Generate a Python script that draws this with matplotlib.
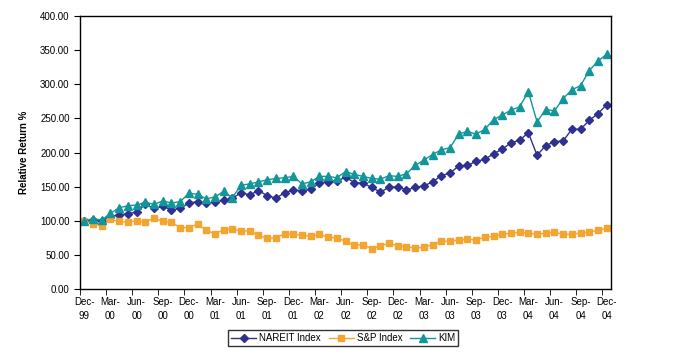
import matplotlib

matplotlib.use("Agg")
import matplotlib.pyplot as plt
import numpy as np

# monthly points Dec-99 .. Dec-04 (61 values)
nareit = [100, 101, 100, 106, 109, 110, 113, 124, 118, 121, 116, 118,
          126, 128, 126, 127, 130, 133, 141, 138, 144, 137, 133, 141,
          145, 144, 146, 156, 157, 158, 164, 156, 155, 149, 142, 149,
          150, 145, 149, 151, 157, 166, 170, 180, 181, 187, 190, 198,
          205, 214, 218, 229, 196, 210, 216, 217, 234, 234, 247, 257, 270]
sp = [100, 95, 93, 102, 99, 98, 100, 98, 104, 99, 98, 90,
      90, 95, 86, 81, 87, 88, 85, 85, 79, 74, 75, 81,
      80, 79, 77, 80, 76, 75, 70, 64, 65, 59, 63, 67,
      63, 62, 60, 61, 65, 70, 70, 72, 73, 72, 76, 77,
      80, 82, 83, 82, 80, 82, 83, 80, 80, 82, 83, 86, 89]
kim = [100, 103, 101, 111, 119, 122, 123, 127, 124, 129, 126, 128,
       140, 139, 132, 135, 143, 134, 152, 154, 157, 160, 162, 163,
       165, 154, 157, 165, 165, 163, 172, 168, 165, 162, 161, 166,
       165, 169, 181, 189, 197, 204, 207, 227, 231, 227, 234, 248,
       255, 262, 267, 289, 245, 263, 261, 279, 292, 298, 320, 334, 344]

tick_labels = ["Dec-\n99", "Mar-\n00", "Jun-\n00", "Sep-\n00", "Dec-\n00",
               "Mar-\n01", "Jun-\n01", "Sep-\n01", "Dec-\n01", "Mar-\n02",
               "Jun-\n02", "Sep-\n02", "Dec-\n02", "Mar-\n03", "Jun-\n03",
               "Sep-\n03", "Dec-\n03", "Mar-\n04", "Jun-\n04", "Sep-\n04",
               "Dec-\n04"]

plt.rcParams["font.family"] = ["Liberation Sans", "DejaVu Sans"]

fig = plt.figure(figsize=(6.73, 3.56), dpi=100)
ax = fig.add_axes([0.1189, 0.1882, 0.789, 0.7668])

x = np.arange(len(nareit))
ax.plot(x, nareit, color="#2E3192", marker="D", markersize=4.2, lw=1.0,
        label="NAREIT Index")
ax.plot(x, sp, color="#F4A52F", marker="s", markersize=5, lw=1.0,
        label="S&P Index")
ax.plot(x, kim, color="#13969A", marker="^", markersize=5.5, lw=1.0,
        label="KIM")

ax.set_xlim(-0.5, len(nareit) - 0.5)
ax.set_ylim(0, 400)
ax.set_yticks(np.arange(0, 401, 50))
ax.set_yticklabels(["{:.2f}".format(v) for v in np.arange(0, 401, 50)])

# tick marks sit between categories, labels centred on the category
ax.set_xticks(np.arange(0, len(nareit), 3))
ax.set_xticklabels(tick_labels, linespacing=1.5)
ax.set_xticks(np.arange(-0.5, len(nareit), 3), minor=True)
ax.tick_params(axis="x", which="major", length=0, pad=6, labelsize=7)
ax.tick_params(axis="x", which="minor", length=4, direction="out")
ax.tick_params(axis="y", length=4, direction="out", labelsize=7)

for s in ax.spines.values():
    s.set_linewidth(1.0)

ax.set_ylabel("Relative Return %", fontsize=7, fontweight="bold", labelpad=8)

leg = fig.legend(loc="center", bbox_to_anchor=(0.51, 0.05), ncol=3,
                 fontsize=7, frameon=True, fancybox=False, handlelength=2.6,
                 columnspacing=0.8, handletextpad=0.3, borderpad=0.3)
leg.get_frame().set_edgecolor("black")
leg.get_frame().set_linewidth(1.0)

fig.savefig("out.png", dpi=100)
